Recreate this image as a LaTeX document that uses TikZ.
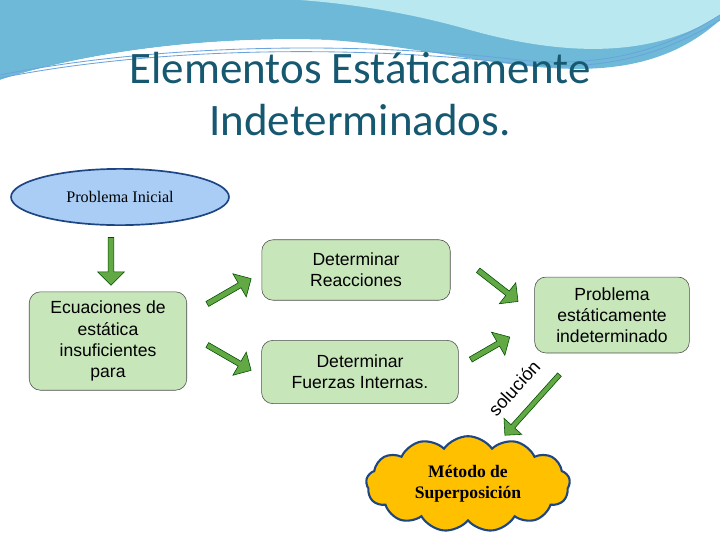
\documentclass[tikz,border=0pt]{standalone}
\usepackage{fontspec}
\setmainfont{Liberation Serif}
\setsansfont{Liberation Sans}
\newfontfamily\titlefont{Carlito}
\usetikzlibrary{shapes.geometric, shapes.arrows, shapes.symbols, positioning}
\definecolor{boxgreen}{RGB}{199,230,186}
\definecolor{arrgreen}{RGB}{98,168,68}
\definecolor{titleteal}{RGB}{22,88,112}
\definecolor{ellblue}{RGB}{170,205,245}
\definecolor{ellborder}{RGB}{30,70,130}
\definecolor{cloudorange}{RGB}{255,192,0}
\definecolor{wavedark}{RGB}{110,185,215}
\definecolor{wavelight}{RGB}{185,232,240}
\tikzset{
  box/.style={draw=black!70, fill=boxgreen, rounded corners=8pt, align=center,
    font=\sffamily\fontsize{12.5}{15}\selectfont},
  blockarrow/.style={single arrow, draw=green!30!black, fill=arrgreen,
    minimum height=#1, minimum width=19pt, single arrow head extend=4.5pt,
    inner sep=1pt, line width=0.4pt},
}
\begin{document}
\begin{tikzpicture}[x=0.025cm, y=-0.025cm]
 \useasboundingbox (0,0) rectangle (720,540);
 % header waves
 \fill[wavedark] (0,0) -- (720,0) -- (720,20) .. controls (620,110) and (480,50) .. (330,40) .. controls (180,35) and (60,60) .. (0,80) -- cycle;
 \fill[wavelight] (300,0) -- (720,0) -- (720,15) .. controls (650,60) and (560,55) .. (470,30) .. controls (400,10) and (340,3) .. (300,0) -- cycle;
 \fill[white] (0,80) .. controls (60,60) and (180,35) .. (330,40) .. controls (200,45) and (80,75) .. (0,95) -- cycle;
 \draw[cyan!60!blue!60, line width=0.6pt] (0,75) .. controls (150,45) and (350,40) .. (520,60) .. controls (620,70) and (680,40) .. (720,15);
 \draw[cyan!60!blue!60, line width=0.6pt] (0,78) .. controls (150,48) and (350,44) .. (520,64) .. controls (620,74) and (680,44) .. (720,20);
 % title
 \node[font=\titlefont\fontsize{32}{37}\selectfont, text=titleteal, align=center] (title) at (360,94) {Elementos Estáticamente\\Indeterminados.};
 % nodes
 \node[ellipse, draw=ellborder, line width=1.2pt, fill=ellblue, minimum width=155pt, minimum height=40pt, inner sep=0pt,
   font=\fontsize{11.5}{13}\selectfont] (inicial) at (120,197) {Problema Inicial};
 \node[box, minimum width=112pt, minimum height=70pt] (ecuaciones) at (108,341) {Ecuaciones de\\estática\\insuficientes\\para};
 \node[box, minimum width=134pt, minimum height=43pt] (reacciones) at (356,270) {Determinar\\Reacciones};
 \node[box, minimum width=140pt, minimum height=45pt] (internas) at (360,372) {Determinar\\Fuerzas Internas.};
 \node[box, minimum width=110pt, minimum height=54pt] (indeterminado) at (612,315) {Problema\\estáticamente\\indeterminado};
 \node[cloud, cloud puffs=13, cloud puff arc=110, aspect=2.2, draw=ellborder, line width=1.5pt, fill=cloudorange, align=center,
   minimum width=145pt, minimum height=68pt, font=\bfseries\fontsize{12.5}{15}\selectfont] (metodo) at (468,484) {Método de\\Superposición};
 % block arrows
 \node[blockarrow=34pt, rotate=-90] (a1) at (111,260) {};
 \node[blockarrow=36pt, rotate=30] (a2) at (228,292) {};
 \node[blockarrow=36pt, rotate=-30] (a3) at (228,357) {};
 \node[blockarrow=36pt, rotate=-38] (a4) at (497,285) {};
 \node[blockarrow=32pt, rotate=30] (a5) at (489,349) {};
 \node[blockarrow=58pt, rotate=-132, minimum width=17pt] (a6) at (533,404) {};
 \node[font=\sffamily\fontsize{13}{15}\selectfont, rotate=48, inner sep=0pt] (solucion) at (514,388) {solución};
\end{tikzpicture}
\end{document}
